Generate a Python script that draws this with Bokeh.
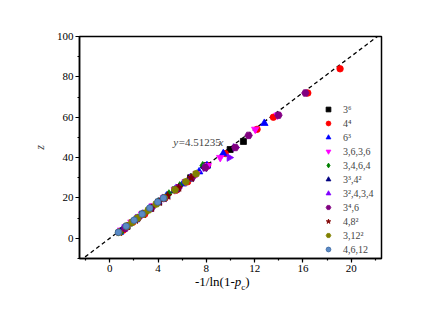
import math
from bokeh.plotting import figure
from bokeh.models import Range1d, SingleIntervalTicker, Label, Div
from bokeh.layouts import column
from bokeh.embed import file_html
from bokeh.resources import INLINE

SLOPE = 4.51235

# series: (legend label, marker, color, angle, x values = -1/ln(1-pc), z values)
lab_36 = "3⁶"
x_36 = [1.44, 2.72, 4.05, 5.40, 6.70, 8.05, 9.97, 11.07]
z_36 = [6, 12, 18, 24, 30, 36, 44, 48]

lab_44 = "4⁴"
x_44 = [1.11, 1.91, 2.90, 4.58, 5.55, 6.45, 8.10, 9.56, 12.20, 13.55, 16.40, 19.07]
z_44 = [4, 8, 12, 20, 24, 28, 36, 42, 54, 60, 72, 84]

lab_63 = "6³"
x_63 = [0.84, 2.05, 2.70, 3.35, 4.02, 4.70, 5.38, 6.05, 6.72, 7.40, 8.05, 9.40, 12.80]
z_63 = [3, 9, 12, 15, 18, 21, 24, 27, 30, 33, 36, 42, 57]

lab_3636 = "3,6,3,6"
x_3636 = [0.94, 1.80, 2.68, 3.58, 4.48, 5.40, 6.30, 7.20, 8.12, 9.15, 12.05, 13.90]
z_3636 = [4, 8, 12, 16, 20, 24, 28, 32, 36, 40, 54, 61]

lab_3464 = "3,4,6,4"
x_3464 = [1.04, 1.85, 2.30, 3.15, 4.02, 4.90, 5.80, 6.70, 7.70]
z_3464 = [4, 8, 10, 14, 18, 22, 26, 30, 36]

lab_3342 = "3³,4²"
x_3342 = [1.18, 2.28, 3.40, 4.50, 5.62, 6.75, 7.85]
z_3342 = [5, 10, 15, 20, 25, 30, 35]

lab_32434 = "3²,4,3,4"
x_32434 = [1.20, 2.30, 3.42, 4.52, 5.65, 6.78, 7.90, 9.90, 10.40]
z_32434 = [5, 10, 15, 20, 25, 30, 35, 40, 45]

lab_346 = "3⁴,6"
x_346 = [1.30, 2.35, 3.45, 4.55, 5.68, 6.80, 7.92, 10.40, 11.50, 13.97, 16.20]
z_346 = [5, 10, 15, 20, 25, 30, 35, 45, 51, 61, 72]

lab_482 = "4,8²"
x_482 = [0.80, 1.45, 2.10, 2.78, 3.45, 4.10, 4.80, 5.70, 6.75]
z_482 = [3, 6, 9, 12, 15, 18, 21, 25, 30]

lab_3122 = "3,12²"
x_3122 = [0.75, 1.40, 1.85, 2.30, 2.75, 3.20, 3.85, 4.50, 5.40, 6.30, 7.15]
z_3122 = [3, 6, 8, 10, 12, 14, 17, 20, 24, 28, 32]

lab_4612 = "4,6,12"
x_4612 = [0.72, 1.36, 2.02, 2.68, 3.32, 3.98, 4.45]
z_4612 = [3, 6, 9, 12, 15, 18, 20]

series = [
    (lab_36, "square", "#000000", "#000000", 0.0, 6, x_36, z_36),
    (lab_44, "circle", "#ff0000", "#ff0000", 0.0, 6.5, x_44, z_44),
    (lab_63, "triangle", "#0000ff", "#0000ff", 0.0, 7.5, x_63, z_63),
    (lab_3636, "inverted_triangle", "#ff00ff", "#ff00ff", 0.0, 7.5, x_3636, z_3636),
    (lab_3464, "diamond", "#008000", "#008000", 0.0, 8.5, x_3464, z_3464),
    (lab_3342, "triangle", "#000080", "#000080", math.pi / 2, 7.5, x_3342, z_3342),
    (lab_32434, "triangle", "#8000ff", "#8000ff", -math.pi / 2, 7.5, x_32434, z_32434),
    (lab_346, "hex", "#800080", "#800080", 0.0, 7.5, x_346, z_346),
    (lab_482, "star", "#800000", "#800000", 0.0, 8.5, x_482, z_482),
    (lab_3122, "hex", "#808000", "#808000", 0.3, 7.5, x_3122, z_3122),
    (lab_4612, "circle", "#5a8ac6", "#3a66a0", 0.0, 6.5, x_4612, z_4612),
]

FONT = "Liberation Serif"

p = figure(width=435, height=278, x_range=Range1d(-2.5, 22.5), y_range=Range1d(-10, 100),
           output_backend="svg", toolbar_location=None,
           min_border_left=79, min_border_right=54, min_border_top=36, min_border_bottom=20)
p.xgrid.visible = False
p.ygrid.visible = False
p.outline_line_color = "black"
p.outline_line_width = 1.5
p.outline_line_alpha = 1.0

p.xaxis.ticker = SingleIntervalTicker(interval=4, num_minor_ticks=2)
p.yaxis.ticker = SingleIntervalTicker(interval=20, num_minor_ticks=2)
for ax in (p.xaxis[0], p.yaxis[0]):
    ax.axis_line_width = 1.5
    ax.major_tick_out = 4
    ax.major_tick_in = 0
    ax.minor_tick_out = 2
    ax.minor_tick_in = 0
    ax.major_tick_line_width = 1.2
    ax.minor_tick_line_width = 1.2
    ax.major_label_text_font = FONT
    ax.major_label_text_font_size = "11px"
    ax.major_label_text_color = "black"
    ax.major_label_standoff = 2

p.yaxis.axis_label = "z"
p.yaxis.axis_label_text_font = FONT
p.yaxis.axis_label_text_font_style = "italic"
p.yaxis.axis_label_text_font_size = "12px"
p.yaxis.axis_label_standoff = 7

# fit line
fx = [p.x_range.start, p.x_range.end]
fy = [SLOPE * v for v in fx]
p.line(fx, fy, line_color="black", line_dash="4 3", line_width=1.3)

for lab, mk, fc, lc, ang, sz, xs, zs in series:
    p.scatter(xs, zs, marker=mk, size=sz, angle=ang, fill_color=fc, line_color=lc,
              line_width=0.8, legend_label=lab)

leg = p.legend[0]
leg.location = (243, 2)
leg.border_line_color = None
leg.background_fill_alpha = 0
leg.padding = 4
leg.margin = 0
leg.spacing = 0
leg.label_height = 14
leg.glyph_height = 14
leg.glyph_width = 12
leg.label_standoff = 9
leg.label_text_font = FONT
leg.label_text_font_size = "10px"

# fit equation
p.add_layout(Label(x=5.27, y=47.5, text="y", text_font=FONT, text_font_style="italic",
                   text_font_size="11px", text_baseline="middle"))
p.add_layout(Label(x=5.72, y=47.5, text="=4.51235", text_font=FONT,
                   text_font_size="11px", text_baseline="middle"))
p.add_layout(Label(x=9.0, y=47.5, text="x", text_font=FONT, text_font_style="italic",
                   text_font_size="11px", text_baseline="middle"))

# x axis label: -1/ln(1-p_c)
xlabel = Div(text='-1/ln(1-<i>p</i><sub style="font-size:9px">c</sub>)', width=435, height=22,
             styles={"margin-top": "-4px", "padding-left": "190px",
                     "font-family": "'Liberation Serif'", "font-size": "13px",
                     "color": "black", "line-height": "15px"})

layout = column(p, xlabel, spacing=0)
open("out.html", "w").write(file_html(layout, INLINE))
